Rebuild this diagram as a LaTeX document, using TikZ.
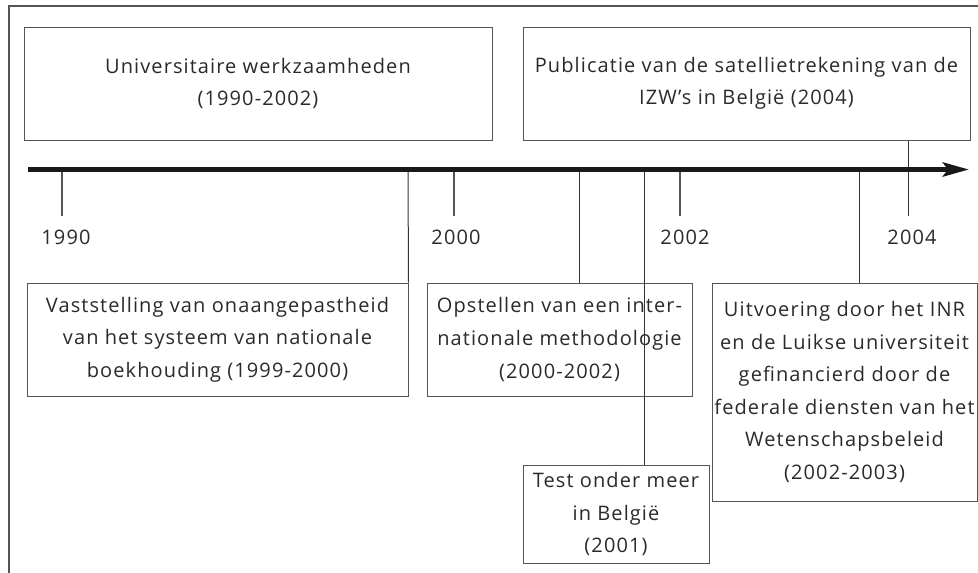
\documentclass[tikz,border=0pt]{standalone}
\usepackage{fontspec}
\setmainfont{Open Sans}[LetterSpace=5.5]
\usetikzlibrary{arrows.meta}
\definecolor{txt}{HTML}{2A2A2A}
\definecolor{frame}{HTML}{555555}
\tikzset{
  box/.style={draw=frame, line width=1pt, align=center, inner sep=0pt, text=txt,
    font=\fontsize{20}{32.6}\selectfont},
  yearlab/.style={text=txt, inner sep=0pt, font=\fontsize{20}{24}\selectfont},
  tickline/.style={draw=frame, line width=1.2pt},
  conn/.style={draw=black!80, line width=1pt},
  axisline/.style={line width=5pt, draw=black!90, -{Stealth[length=26pt,width=14pt,inset=5pt]}}
}
\begin{document}
\begin{tikzpicture}[x=1pt,y=-1pt]
\useasboundingbox (0,0) rectangle (978,573);
% outer frame
\draw[draw=frame, line width=1.5pt] (9,573) -- (9,6) -- (978,6);

% boxes
\node[box, minimum width=468pt, minimum height=113pt] (univ) at (258,83.5)
  {Universitaire werkzaamheden\\(1990-2002)};
\node[box, minimum width=447pt, minimum height=113pt] (publ) at (746.5,83.5)
  {Publicatie van de satellietrekening van de\\IZW's in België (2004)};
\node[box, minimum width=381pt, minimum height=113pt] (vast) at (217.5,339.5)
  {Vaststelling van onaangepastheid\\van het systeem van nationale\\boekhouding (1999-2000)};
\node[box, minimum width=265pt, minimum height=113pt] (opst) at (559.5,339.5)
  {Opstellen van een inter-\\nationale methodologie\\(2000-2002)};
\node[box, minimum width=186pt, minimum height=98pt] (test) at (616,514)
  {Test onder meer\\in België\\(2001)};
\node[box, minimum width=265pt, minimum height=218pt] (uitv) at (844.5,392)
  {Uitvoering door het INR\\en de Luikse universiteit\\gefinancierd door de\\federale diensten van het\\Wetenschapsbeleid\\(2002-2003)};

% axis
\coordinate (axL) at (28,169.5);
\coordinate (axR) at (969,169.5);

% year ticks
\coordinate (a1990) at (62,172);   \coordinate (b1990) at (62,216);
\coordinate (a2000) at (454,172);  \coordinate (b2000) at (454,216);
\coordinate (a2002) at (680,172);  \coordinate (b2002) at (680,216);
\coordinate (b2004) at (908,216);
\draw[tickline] (a1990) -- (b1990);
\draw[tickline] (a2000) -- (b2000);
\draw[tickline] (a2002) -- (b2002);
\draw[conn] (publ.south -| b2004) -- (b2004);

\node[yearlab] (y1990) at (66,237) {1990};
\node[yearlab] (y2000) at (456,237) {2000};
\node[yearlab] (y2002) at (685,237) {2002};
\node[yearlab] (y2004) at (912,237) {2004};

% event connectors
\coordinate (cvast) at (408,172);
\coordinate (copst) at (579,172);
\coordinate (ctest) at (644,167);
\coordinate (cuitv) at (859,172);
\draw[conn] (cvast) -- (vast.north east);
\draw[conn] (copst) -- (copst |- opst.north);
\draw[conn] (ctest) -- (ctest |- test.north);
\draw[conn] (cuitv) -- (cuitv |- uitv.north);

\draw[axisline] (axL) -- (axR);
\end{tikzpicture}
\end{document}
